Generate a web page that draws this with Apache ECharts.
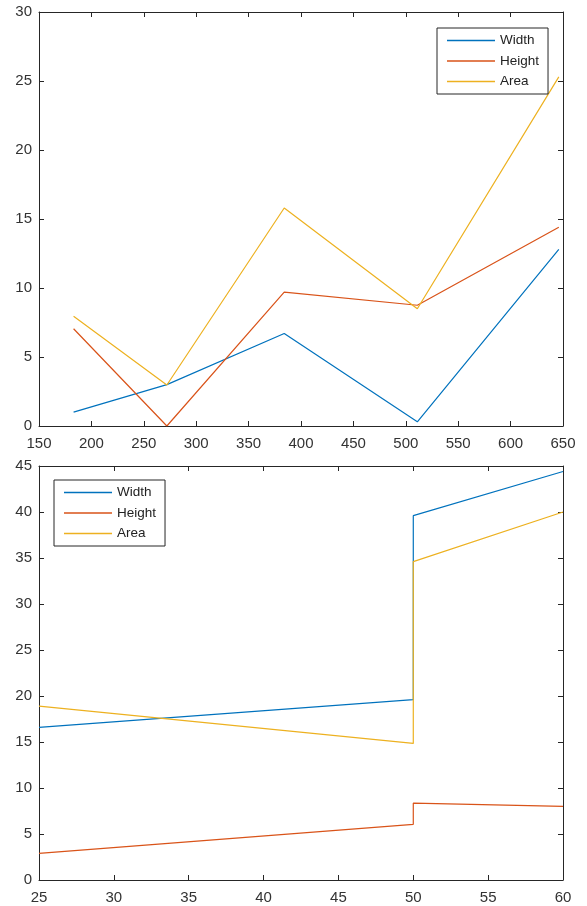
<!DOCTYPE html>
<html><head><meta charset="utf-8">
<script src="https://cdn.jsdelivr.net/npm/echarts@6/dist/echarts.min.js"></script>
<style>html,body{margin:0;padding:0;background:#fff}#c{width:587px;height:906px}</style>
</head><body><div id="c"></div>
<script>
const seriesNames = ['Width', 'Height', 'Area'];
const colors = ['#0072BD', '#D95319', '#EDB120'];

const topX = [183, 272, 384, 511, 646];
const topWidth = [1.0, 3.0, 6.7, 0.3, 12.8];
const topHeight = [7.05, 0, 9.7, 8.75, 14.4];
const topArea = [7.95, 2.97, 15.8, 8.5, 25.3];

const bottomX = [25, 50, 50, 60];
const bottomWidth = [16.6, 19.6, 39.6, 44.4];
const bottomHeight = [2.9, 6.05, 8.35, 8.0];
const bottomArea = [18.9, 14.85, 34.6, 40.0];

const topXRange = [150, 650, 50];
const topYRange = [0, 30, 5];
const bottomXRange = [25, 60, 5];
const bottomYRange = [0, 45, 5];

const axisColor = '#262626';
const font = 'Liberation Sans, Arial, Helvetica, sans-serif';

function pairs(xs, ys) { return xs.map((x, i) => [x, ys[i]]); }

function mkAxis(type, pos, gridIndex, r, showLabel) {
  return {
    type: 'value', gridIndex: gridIndex, position: pos,
    min: r[0], max: r[1], interval: r[2],
    axisLine: { show: true, onZero: false, lineStyle: { color: axisColor, width: 1 } },
    axisTick: { show: true, inside: true, length: 5, lineStyle: { color: axisColor } },
    axisLabel: { show: showLabel, color: '#333', fontSize: 15, fontFamily: font,
                 margin: type === 'x' ? 10 : 7 },
    splitLine: { show: false }
  };
}

function mkLegend(left, top) {
  return {
    left: left, top: top, orient: 'vertical',
    backgroundColor: '#fff', borderColor: axisColor, borderWidth: 1,
    padding: [5, 9, 5, 10], itemGap: 5.5, itemWidth: 48, itemHeight: 1.5,
    itemTextGap: 5,
    textStyle: { fontSize: 13.5, fontFamily: font, color: '#222', lineHeight: 15 },
    data: seriesNames.map(n => ({ name: n, icon: 'rect' }))
  };
}

function mkLine(name, idx, xi, yi, data) {
  return {
    type: 'line', name: name, xAxisIndex: xi, yAxisIndex: yi, data: data,
    showSymbol: false, symbol: 'none',
    lineStyle: { color: colors[idx], width: 1.2 },
    itemStyle: { color: colors[idx] }
  };
}

const chart = echarts.init(document.getElementById('c'), null, { renderer: 'canvas' });
chart.setOption({
  animation: false,
  backgroundColor: '#fff',
  grid: [
    { left: 39, top: 12, width: 524, height: 414 },
    { left: 39, top: 466, width: 524, height: 414 }
  ],
  xAxis: [
    mkAxis('x', 'bottom', 0, topXRange, true),
    mkAxis('x', 'top', 0, topXRange, false),
    mkAxis('x', 'bottom', 1, bottomXRange, true),
    mkAxis('x', 'top', 1, bottomXRange, false)
  ],
  yAxis: [
    mkAxis('y', 'left', 0, topYRange, true),
    mkAxis('y', 'right', 0, topYRange, false),
    mkAxis('y', 'left', 1, bottomYRange, true),
    mkAxis('y', 'right', 1, bottomYRange, false)
  ],
  legend: [ mkLegend(437, 28), mkLegend(54, 480) ],
  series: [
    mkLine('Width', 0, 0, 0, pairs(topX, topWidth)),
    mkLine('Height', 1, 0, 0, pairs(topX, topHeight)),
    mkLine('Area', 2, 0, 0, pairs(topX, topArea)),
    mkLine('Width', 0, 2, 2, pairs(bottomX, bottomWidth)),
    mkLine('Height', 1, 2, 2, pairs(bottomX, bottomHeight)),
    mkLine('Area', 2, 2, 2, pairs(bottomX, bottomArea))
  ]
});
</script>
</body></html>
